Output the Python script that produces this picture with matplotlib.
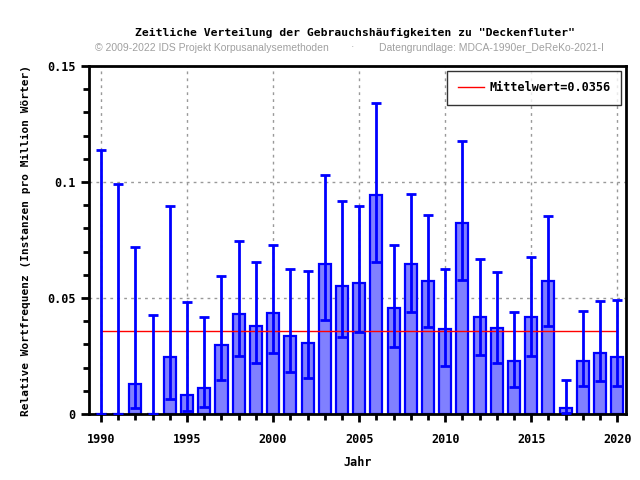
import numpy as np
import matplotlib
matplotlib.use("Agg")
import matplotlib.pyplot as plt
from matplotlib.ticker import MultipleLocator, FixedLocator

years = list(range(1990, 2021))
freq = [0.0, 0.0, 0.0129, 0.0, 0.0246, 0.0082, 0.0112, 0.0297, 0.0431, 0.0379,
        0.0437, 0.0337, 0.0307, 0.0648, 0.0553, 0.0566, 0.0943, 0.0458, 0.0648, 0.0572,
        0.0365, 0.0825, 0.0417, 0.0369, 0.0230, 0.0417, 0.0572, 0.0027, 0.0230, 0.0264,
        0.0247]
err_low = [0.0, 0.0, 0.0026, 0.0, 0.0065, 0.0013, 0.0030, 0.0147, 0.0250, 0.0220,
           0.0264, 0.0182, 0.0157, 0.0407, 0.0333, 0.0355, 0.0656, 0.0290, 0.0441, 0.0376,
           0.0208, 0.0579, 0.0256, 0.0221, 0.0118, 0.0251, 0.0380, 0.0003, 0.0122, 0.0144,
           0.0122]
err_high = [0.1138, 0.0991, 0.0720, 0.0427, 0.0897, 0.0483, 0.0418, 0.0595, 0.0746, 0.0655,
            0.0730, 0.0625, 0.0618, 0.1032, 0.0919, 0.0898, 0.1342, 0.0730, 0.0950, 0.0859,
            0.0626, 0.1178, 0.0669, 0.0613, 0.0441, 0.0678, 0.0855, 0.0148, 0.0445, 0.0488,
            0.0493]
mean_val = 0.0356

title = 'Zeitliche Verteilung der Gebrauchshäufigkeiten zu "Deckenfluter"'
subtitle_left = "© 2009-2022 IDS Projekt Korpusanalysemethoden"
subtitle_right = "Datengrundlage: MDCA-1990er_DeReKo-2021-I"

mono = "DejaVu Sans Mono"

fig = plt.figure(figsize=(6.4, 4.8), dpi=100)
ax = fig.add_axes([0.139, 0.1375, 0.839, 0.725])

x = np.array(years)
y = np.array(freq)
yerr = np.vstack([y - np.array(err_low), np.array(err_high) - y])

ax.bar(x, y, width=0.7, color="#8080ff", edgecolor="#0000ff", linewidth=1.6, zorder=2)
ax.errorbar(x, y, yerr=yerr, fmt="none", ecolor="#0000ff", elinewidth=2,
            capsize=3.5, capthick=2, zorder=3)
ax.plot([years[0], years[-1]], [mean_val, mean_val], color="#ff0000", linewidth=1,
        zorder=2.5, label="Mittelwert=0.0356")

ax.set_xlim(1989.3, 2020.5)
ax.set_ylim(0, 0.15)
ax.xaxis.set_major_locator(FixedLocator([1990, 1995, 2000, 2005, 2010, 2015, 2020]))
ax.xaxis.set_minor_locator(MultipleLocator(1))
ax.yaxis.set_major_locator(FixedLocator([0, 0.05, 0.1, 0.15]))
ax.yaxis.set_minor_locator(MultipleLocator(0.01))
ax.set_yticklabels(["0", "0.05", "0.1", "0.15"])
ax.grid(True, which="major", color="#999999", linestyle=(0, (2, 3)), linewidth=1, zorder=0)
ax.set_axisbelow(True)

for s in ax.spines.values():
    s.set_linewidth(2)
ax.tick_params(axis="both", which="major", length=6, width=2, direction="out",
               labelsize=8.5)
ax.tick_params(axis="x", which="major", pad=8)
ax.tick_params(axis="both", which="minor", length=4, width=2, direction="out")
for lab in ax.get_xticklabels() + ax.get_yticklabels():
    lab.set_family(mono)
    lab.set_fontweight("bold")

ax.set_xlabel("Jahr", family=mono, fontweight="bold", fontsize=8.5, labelpad=7)
ax.set_ylabel("Relative Wortfrequenz (Instanzen pro Million Wörter)", family=mono,
              fontweight="bold", fontsize=8, labelpad=12)

leg = ax.legend(loc="upper right", prop={"family": mono, "weight": "bold", "size": 8.5},
                frameon=True, fancybox=False, edgecolor="black", borderpad=0.9,
                handlelength=2.2, handletextpad=0.5, borderaxespad=0.4)
leg.get_frame().set_linewidth(1)

fig.text(0.554, 0.932, title, ha="center", va="center", family=mono,
         fontweight="bold", fontsize=8.2)
fig.text(0.148, 0.901, subtitle_left, ha="left", va="center", color="#a0a0a0",
         family="Liberation Sans", fontsize=7.5)
fig.text(0.551, 0.901, "·", ha="center", va="center", color="#a0a0a0",
         family="Liberation Sans", fontsize=7.5)
fig.text(0.592, 0.901, subtitle_right, ha="left", va="center", color="#a0a0a0",
         family="Liberation Sans", fontsize=7.5)

fig.savefig("out.png", dpi=100)
